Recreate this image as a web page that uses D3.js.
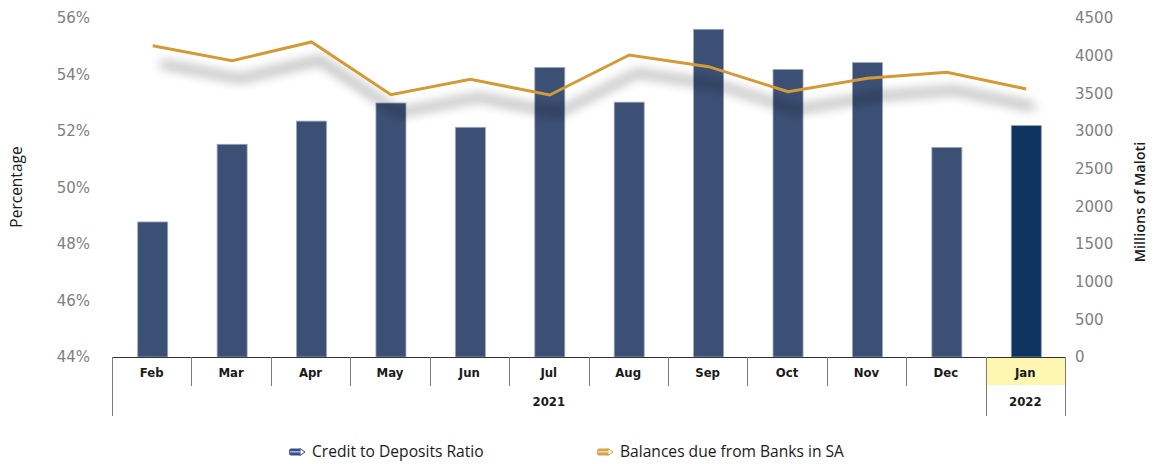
<!DOCTYPE html>
<html><head><meta charset="utf-8">
<script src="https://cdn.jsdelivr.net/npm/d3@7"></script>
<style>body{margin:0;background:#fff}svg{display:block}</style>
</head><body>
<svg id="c" width="1154" height="464"></svg>
<script>
const months = ["Feb","Mar","Apr","May","Jun","Jul","Aug","Sep","Oct","Nov","Dec","Jan"];
const years = [{label:"2021", from:0, to:10},{label:"2022", from:11, to:11}];
const creditRatio = [48.78,51.53,52.35,52.99,52.13,54.25,53.02,55.6,54.18,54.42,51.42,52.19];
const balancesSA = [4132,3933,4182,3482,3686,3478,4009,3854,3522,3700,3779,3558];
const leftTicks = [44,46,48,50,52,54,56];
const rightTicks = [0,500,1000,1500,2000,2500,3000,3500,4000,4500];
const seriesNames = ["Credit to Deposits Ratio","Balances due from Banks in SA"];

const svg = d3.select("#c");
const L=112, R=1065, T=18, B=357;
const x = d3.scaleBand().domain(months.map((m,i)=>i)).range([L,R]).paddingInner(0).paddingOuter(0);
const yL = d3.scaleLinear().domain([44,56]).range([B,T]);
const yR = d3.scaleLinear().domain([0,4500]).range([B,T]);

const defs = svg.append("defs");
const f = defs.append("filter").attr("id","sh").attr("x","-10%").attr("y","-60%").attr("width","130%").attr("height","300%");
f.append("feGaussianBlur").attr("in","SourceAlpha").attr("stdDeviation",6).attr("result","b");
f.append("feOffset").attr("in","b").attr("dx",8).attr("dy",18).attr("result","o");
f.append("feComponentTransfer").attr("in","o").attr("result","o2")
  .append("feFuncA").attr("type","linear").attr("slope",0.75);
const m = f.append("feMerge"); m.append("feMergeNode").attr("in","o2"); m.append("feMergeNode").attr("in","SourceGraphic");

// left axis labels
svg.append("g").selectAll("text").data(leftTicks).join("text")
  .attr("x",90).attr("y",d=>yL(d)).attr("dy","0.35em").attr("text-anchor","end")
  .attr("font-family","DejaVu Sans, Verdana, sans-serif").attr("font-size",15).attr("fill","#7f7f7f")
  .text(d=>d+"%");
// right axis labels
svg.append("g").selectAll("text").data(rightTicks).join("text")
  .attr("x",1075).attr("y",d=>yR(d)).attr("dy","0.35em").attr("text-anchor","start")
  .attr("font-family","DejaVu Sans, Verdana, sans-serif").attr("font-size",15).attr("fill","#7f7f7f")
  .text(d=>d);

svg.append("text").attr("transform","translate(22,187) rotate(-90)").attr("text-anchor","middle")
  .attr("font-family","Open Sans, sans-serif").attr("font-size",15.5).attr("fill","#1a1a1a").text("Percentage");
svg.append("text").attr("transform","translate(1145,202) rotate(-90)").attr("text-anchor","middle")
  .attr("font-family","Open Sans, sans-serif").attr("font-weight",600).attr("font-size",14.5).attr("fill","#1a1a1a").text("Millions of Maloti");

// Jan highlight
svg.append("rect").attr("x",x(11)).attr("y",B).attr("width",x.bandwidth()).attr("height",28).attr("fill","#fdf6b0");

// bars
const bw = 30;
svg.append("g").selectAll("rect").data(creditRatio).join("rect")
  .attr("x",(d,i)=>x(i)+x.bandwidth()/2-bw/2+1).attr("width",bw)
  .attr("y",d=>yL(d)).attr("height",d=>B-yL(d))
  .attr("fill",(d,i)=>i===11?"#0e3560":"#3c5076")
  .attr("stroke",(d,i)=>i===11?"#8a9bb5":"#9aa6bd").attr("stroke-width",0.8);

// line
const line = d3.line().x((d,i)=>x(i)+x.bandwidth()/2+1).y(d=>yR(d));
svg.append("path").datum(balancesSA).attr("d",line).attr("fill","none")
  .attr("stroke","#d49a36").attr("stroke-width",3).attr("stroke-linejoin","miter").attr("filter","url(#sh)");

// category table
const g = svg.append("g");
g.append("line").attr("x1",L).attr("x2",R).attr("y1",B+0.5).attr("y2",B+0.5).attr("stroke","#333").attr("stroke-width",1);
const bounds = d3.range(13).map(i=> i<12 ? x(i) : R);
bounds.forEach((bx,i)=>{
  const full = (i===0||i===11||i===12);
  g.append("line").attr("x1",Math.round(bx)+0.5).attr("x2",Math.round(bx)+0.5).attr("y1",B).attr("y2",full?416:386)
   .attr("stroke","#7a7a7a").attr("stroke-width",1);
});
const tickFont = "Liberation Sans Narrow, DejaVu Sans Condensed, Arial Narrow, sans-serif";
g.selectAll("text.m").data(months).join("text").attr("class","m")
  .attr("x",(d,i)=>x(i)+x.bandwidth()/2).attr("y",372).attr("dy","0.35em").attr("text-anchor","middle")
  .attr("font-family",tickFont).attr("font-weight","bold").attr("font-size",13).attr("fill","#1a1a1a").text(d=>d);
g.selectAll("text.y").data(years).join("text").attr("class","y")
  .attr("x",d=>(x(d.from)+x(d.to)+x.bandwidth())/2).attr("y",401).attr("dy","0.35em").attr("text-anchor","middle")
  .attr("font-family",tickFont).attr("font-weight","bold").attr("font-size",13).attr("fill","#1a1a1a").text(d=>d.label);

// legend
const legend = [{name:seriesNames[0], c:"#3b4f8f", light:"#9fb0e0", x:289},{name:seriesNames[1], c:"#d8a24a", light:"#f3d9a6", x:597}];
const lg = svg.append("g");
legend.forEach(l=>{
  const gg = lg.append("g").attr("transform",`translate(${l.x},452)`);
  gg.append("path").attr("d","M2,-3.5 L11,-3.5 L16,0 L11,3.5 L2,3.5 Q0,3.5 0,0 Q0,-3.5 2,-3.5 Z").attr("fill",l.c);
  gg.append("path").attr("d","M11,-3.5 L16,0 L11,3.5 Z").attr("fill","#fff").attr("stroke",l.c).attr("stroke-width",1);
  gg.append("rect").attr("x",1).attr("y",-1).attr("width",10).attr("height",1.6).attr("fill",l.light);
  gg.append("text").attr("x",23).attr("y",0).attr("dy","0.35em")
    .attr("font-family","Open Sans, sans-serif").attr("font-size",15.6).attr("fill","#1a1a1a").text(l.name);
});
</script>
</body></html>
